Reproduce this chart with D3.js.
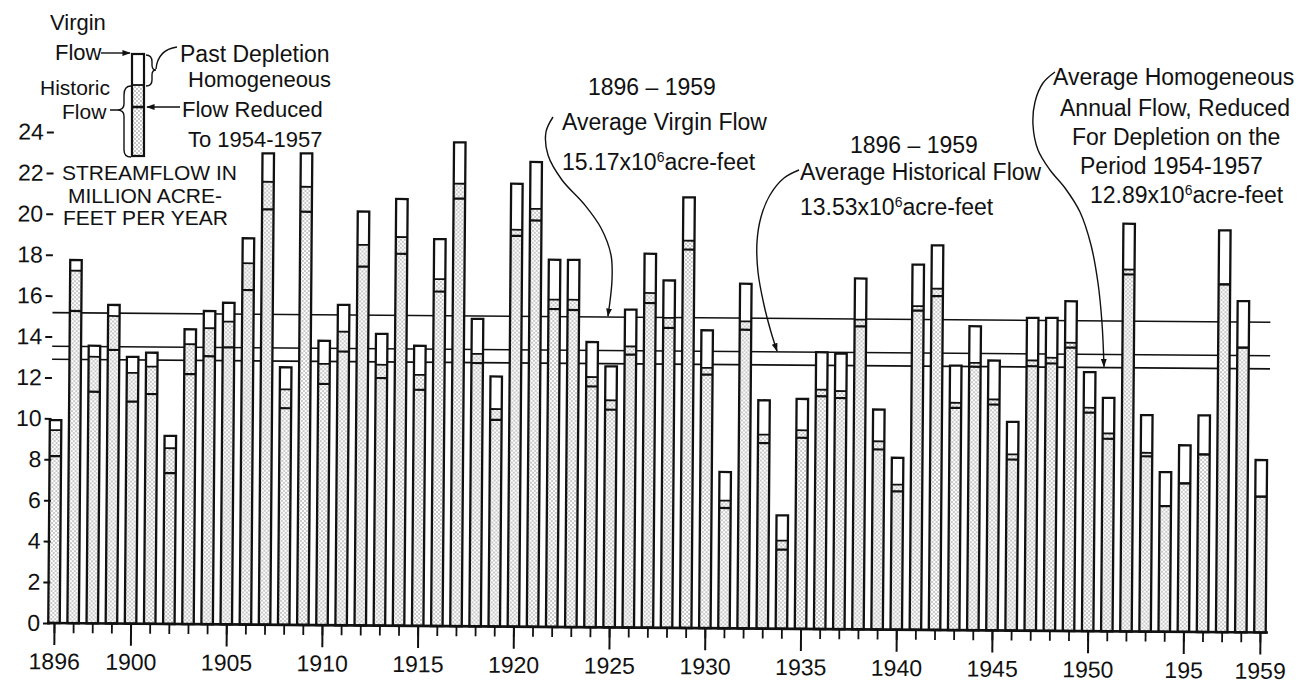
<!DOCTYPE html>
<html>
<head>
<meta charset="utf-8">
<script src="https://cdn.jsdelivr.net/npm/d3@7"></script>
<style>
  html, body { margin: 0; padding: 0; background: #fff; }
  svg { display: block; }
  text { font-family: "Liberation Sans", Arial, sans-serif; fill: #111; }
</style>
</head>
<body>
<svg id="chart" width="1313" height="683"></svg>
<script>
// Annual streamflow, million acre-feet per year
const years = [1896,1897,1898,1899,1900,1901,1902,1903,1904,1905,
               1906,1907,1908,1909,1910,1911,1912,1913,1914,1915,
               1916,1917,1918,1919,1920,1921,1922,1923,1924,1925,
               1926,1927,1928,1929,1930,1931,1932,1933,1934,1935,
               1936,1937,1938,1939,1940,1941,1942,1943,1944,1945,
               1946,1947,1948,1949,1950,1951,1952,1953,1954,1955,
               1956,1957,1958,1959];

const virginFlow = [9.92,17.75,13.57,15.57,13.04,13.25,9.19,14.41,15.31,15.72,
                    18.88,23.04,12.59,23.05,13.90,15.66,20.23,14.26,20.86,13.69,
                    18.91,23.65,15.03,12.22,21.65,22.72,17.95,17.95,13.94,12.76,
                    15.54,18.28,16.98,21.05,14.56,7.64,16.85,11.16,5.54,11.24,
                    13.53,13.47,17.15,10.75,8.40,17.85,18.80,12.93,14.86,13.19,
                    10.20,15.29,15.30,16.12,12.66,11.41,19.93,10.58,7.80,9.12,
                    10.59,19.64,16.19,8.43];

const historicFlow = [9.43,17.23,13.03,15.03,12.26,12.57,8.59,13.68,14.47,14.80,
                      17.66,21.65,11.51,21.42,12.77,14.35,18.60,12.75,19.00,12.27,
                      16.96,21.63,13.32,10.63,19.40,20.43,16.00,16.00,12.23,11.10,
                      13.74,16.36,15.15,18.93,12.72,6.24,15.01,9.48,4.31,9.71,
                      11.70,11.64,15.14,9.20,7.09,15.82,16.68,11.11,13.07,11.29,
                      8.61,13.21,13.35,14.09,10.92,9.67,17.69,8.74,6.14,7.26,
                      8.68,17.00,13.92,6.64];

const homogeneousFlow = [8.16,15.26,11.32,13.37,10.85,11.23,7.37,12.22,13.10,13.54,
                         16.35,20.30,10.59,20.20,11.79,13.38,17.54,12.10,18.18,11.54,
                         16.35,20.90,12.87,10.10,19.10,19.86,15.54,15.50,11.77,10.64,
                         13.34,15.87,14.66,18.50,12.39,5.88,14.60,9.07,3.87,9.34,
                         11.38,11.30,14.81,8.80,6.76,15.60,16.32,10.86,12.88,11.04,
                         8.36,12.93,13.07,13.85,10.68,9.41,17.45,8.57,6.14,7.26,
                         8.68,17.00,13.92,6.64];

// 1896-1959 averages: virgin, historical, homogeneous (reduced to 1954-1957 depletion)
const averageFlows = [15.17, 13.53, 12.89];

const yTickValues = [0,2,4,6,8,10,12,14,16,18,20,22,24];
const xLabelYears = [1896,1900,1905,1910,1915,1920,1925,1930,1935,1940,1945,1950,1955,1959];
const xLabelText  = ["1896","1900","1905","1910","1915","1920","1925","1930","1935","1940","1945","1950","195","1959"];

const svg = d3.select("#chart");
const tilt = 0.45;                       // slight tilt of the drawing sheet, degrees
const tiltTan = Math.tan(tilt * Math.PI / 180);

const x = d3.scalePoint().domain(years).range([54, 1260]);
const y = d3.scaleLinear().domain([0, 24]).range([623, 132]);
const barW = 11.5;
const ink = "#111";

// ---------- defs: stipple fill and arrow tips ----------
const defs = svg.append("defs");
const pat = defs.append("pattern").attr("id", "stipple")
  .attr("width", 4).attr("height", 4).attr("patternUnits", "userSpaceOnUse");
pat.append("rect").attr("width", 4).attr("height", 4).attr("fill", "#fff");
pat.append("circle").attr("cx", 1).attr("cy", 1).attr("r", 0.7).attr("fill", "#666");
pat.append("circle").attr("cx", 3).attr("cy", 3).attr("r", 0.7).attr("fill", "#666");

defs.append("marker").attr("id", "tip")
  .attr("viewBox", "0 0 10 10").attr("refX", 9).attr("refY", 5)
  .attr("markerWidth", 6).attr("markerHeight", 6)
  .attr("orient", "auto")
  .append("path").attr("d", "M0,1.5 L10,5 L0,8.5 Z").attr("fill", ink);

// ---------- plot area ----------
const plot = svg.append("g").attr("transform", `rotate(${tilt} 50 623)`);

// long-term average lines, drawn beneath the bars
plot.selectAll("line.avg").data(averageFlows).join("line")
  .attr("class", "avg")
  .attr("x1", 50).attr("x2", 1268)
  .attr("y1", d => y(d)).attr("y2", d => y(d))
  .attr("stroke", ink).attr("stroke-width", 1.6);

const rows = years.map((yr, i) => ({ yr, v: virginFlow[i], h: historicFlow[i], m: homogeneousFlow[i] }));

const bar = plot.selectAll("g.bar").data(rows).join("g")
  .attr("class", "bar")
  .attr("transform", d => `translate(${x(d.yr) - barW / 2},0)`);

// historic flow (stippled)
bar.append("rect")
  .attr("y", d => y(d.h)).attr("width", barW)
  .attr("height", d => y(0) - y(d.h))
  .attr("fill", "url(#stipple)");
// past depletion (open)
bar.append("rect")
  .attr("y", d => y(d.v)).attr("width", barW)
  .attr("height", d => y(d.h) - y(d.v))
  .attr("fill", "#fff");
// historic flow level
bar.append("line")
  .attr("x1", 0).attr("x2", barW)
  .attr("y1", d => y(d.h)).attr("y2", d => y(d.h))
  .attr("stroke", ink).attr("stroke-width", 1.8);
// homogeneous flow level
bar.append("line")
  .attr("x1", 0).attr("x2", barW)
  .attr("y1", d => y(d.m)).attr("y2", d => y(d.m))
  .attr("stroke", ink).attr("stroke-width", 2.2);
// outline of the virgin flow
bar.append("rect")
  .attr("y", d => y(d.v)).attr("width", barW)
  .attr("height", d => y(0) - y(d.v))
  .attr("fill", "none").attr("stroke", ink).attr("stroke-width", 2.3);

// baseline
plot.append("line")
  .attr("x1", 47).attr("x2", 1268)
  .attr("y1", y(0)).attr("y2", y(0))
  .attr("stroke", ink).attr("stroke-width", 2.6);

// y axis (tick dashes and numbers only)
const yAxis = plot.append("g").attr("transform", "translate(50,0)")
  .call(d3.axisLeft(y).tickValues(yTickValues).tickSize(7).tickPadding(3).tickFormat(d3.format("d")));
yAxis.select(".domain").remove();
yAxis.selectAll(".tick line").attr("stroke", ink).attr("stroke-width", 2);
yAxis.selectAll(".tick text").attr("font-size", 23).attr("font-family", "Liberation Sans, Arial, sans-serif").attr("fill", ink);

// x axis: a short tick every year, a long tick under each labelled year
const xMinor = plot.append("g").attr("transform", `translate(0,${y(0)})`)
  .call(d3.axisBottom(x).tickValues(years).tickSize(10).tickFormat(""));
xMinor.select(".domain").remove();
xMinor.selectAll(".tick line").attr("stroke", ink).attr("stroke-width", 1.8);

const xMajor = plot.append("g").attr("transform", `translate(0,${y(0)})`)
  .call(d3.axisBottom(x).tickValues(xLabelYears).tickSize(22).tickPadding(8)
    .tickFormat(d => xLabelText[xLabelYears.indexOf(d)]));
xMajor.select(".domain").remove();
xMajor.selectAll(".tick line").attr("stroke", ink).attr("stroke-width", 2);
xMajor.selectAll(".tick text").attr("font-size", 23).attr("font-family", "Liberation Sans, Arial, sans-serif").attr("fill", ink);

// ---------- annotations ----------
const note = svg.append("g");
function label(str, px, py, size) {
  return note.append("text").attr("x", px).attr("y", py).attr("font-size", size || 23).text(str);
}
function powerLabel(lead, px, py, tail, size) {
  const t = note.append("text").attr("x", px).attr("y", py).attr("font-size", size || 23);
  t.append("tspan").text(lead);
  t.append("tspan").attr("dy", -8).attr("font-size", 14).text("6");
  t.append("tspan").attr("dy", 8).text(tail);
  return t;
}
const curve = d3.line().curve(d3.curveCatmullRom.alpha(0.5));
function leader(points) {
  note.append("path").attr("d", curve(points))
    .attr("fill", "none").attr("stroke", ink).attr("stroke-width", 1.4)
    .attr("marker-end", "url(#tip)");
}
// screen y of an average line at a given x (the plot is tilted)
const lineAt = (v, px) => y(v) + (px - 50) * tiltTan;

// average virgin flow
label("1896 – 1959", 588, 95);
label("Average  Virgin Flow", 562, 130);
powerLabel("15.17x10", 562, 170, "acre-feet");
leader([[553, 117], [546, 132], [548, 155], [562, 180], [584, 204], [601, 228], [611, 255], [612, 280], [608, lineAt(averageFlows[0], 608) - 1]]);

// average historical flow
label("1896 – 1959", 850, 153);
label("Average Historical Flow", 800, 180);
powerLabel("13.53x10", 800, 215, "acre-feet");
leader([[799, 170], [784, 178], [770, 195], [761, 217], [757, 242], [758, 272], [764, 305], [771, 332], [777, lineAt(averageFlows[1], 777) - 1]]);

// average homogeneous flow
label("Average Homogeneous", 1053, 85);
label("Annual Flow, Reduced", 1060, 116);
label("For Depletion on the", 1072, 145);
label("Period 1954-1957", 1080, 174);
powerLabel("12.89x10", 1090, 203, "acre-feet");
leader([[1055, 72], [1043, 83], [1035, 102], [1033, 125], [1038, 150], [1050, 170], [1065, 188], [1080, 212], [1091, 245], [1098, 283], [1102, 323], [1104, lineAt(averageFlows[2], 1104) - 1]]);

// ---------- key ----------
const key = svg.append("g");
key.append("rect").attr("x", 132).attr("y", 85).attr("width", 12).attr("height", 71).attr("fill", "url(#stipple)");
key.append("rect").attr("x", 132).attr("y", 54).attr("width", 12).attr("height", 31).attr("fill", "#fff");
key.append("line").attr("x1", 132).attr("x2", 144).attr("y1", 85).attr("y2", 85).attr("stroke", ink).attr("stroke-width", 1.8);
key.append("line").attr("x1", 132).attr("x2", 144).attr("y1", 107).attr("y2", 107).attr("stroke", ink).attr("stroke-width", 2.6);
key.append("rect").attr("x", 132).attr("y", 54).attr("width", 12).attr("height", 102).attr("fill", "none").attr("stroke", ink).attr("stroke-width", 2.2);

label("Virgin", 50, 30, 22);
label("Flow", 55, 60, 22);
key.append("path").attr("d", "M101,53 L130,53").attr("stroke", ink).attr("stroke-width", 1.4).attr("marker-end", "url(#tip)");

label("Past  Depletion", 180, 62, 23);
key.append("path")
  .attr("d", "M146,55 C151,55 152,58 152,62 L152,65 C152,68 153,70 156,70 C153,70 152,72 152,75 L152,80 C152,84 150,86 146,86 M156,69 C157,58 163,49 177,47")
  .attr("fill", "none").attr("stroke", ink).attr("stroke-width", 1.4);

label("Homogeneous", 188, 87, 22);
label("Flow Reduced", 182, 117, 22);
label("To 1954-1957", 188, 147, 22);
key.append("path").attr("d", "M180,107 L147,107").attr("stroke", ink).attr("stroke-width", 1.4).attr("marker-end", "url(#tip)");

label("Historic", 40, 95, 21);
label("Flow", 62, 119, 21);
key.append("path")
  .attr("d", "M131,86 C125,86 124,90 124,95 L124,104 C124,108 122,110 117,110 L110,110 M117,110 C122,110 124,112 124,116 L124,150 C124,155 126,157 131,157")
  .attr("fill", "none").attr("stroke", ink).attr("stroke-width", 1.4);

label("STREAMFLOW IN", 62, 180, 21);
label("MILLION ACRE-", 68, 203, 21);
label("FEET PER YEAR", 63, 225, 21);
</script>
</body>
</html>
